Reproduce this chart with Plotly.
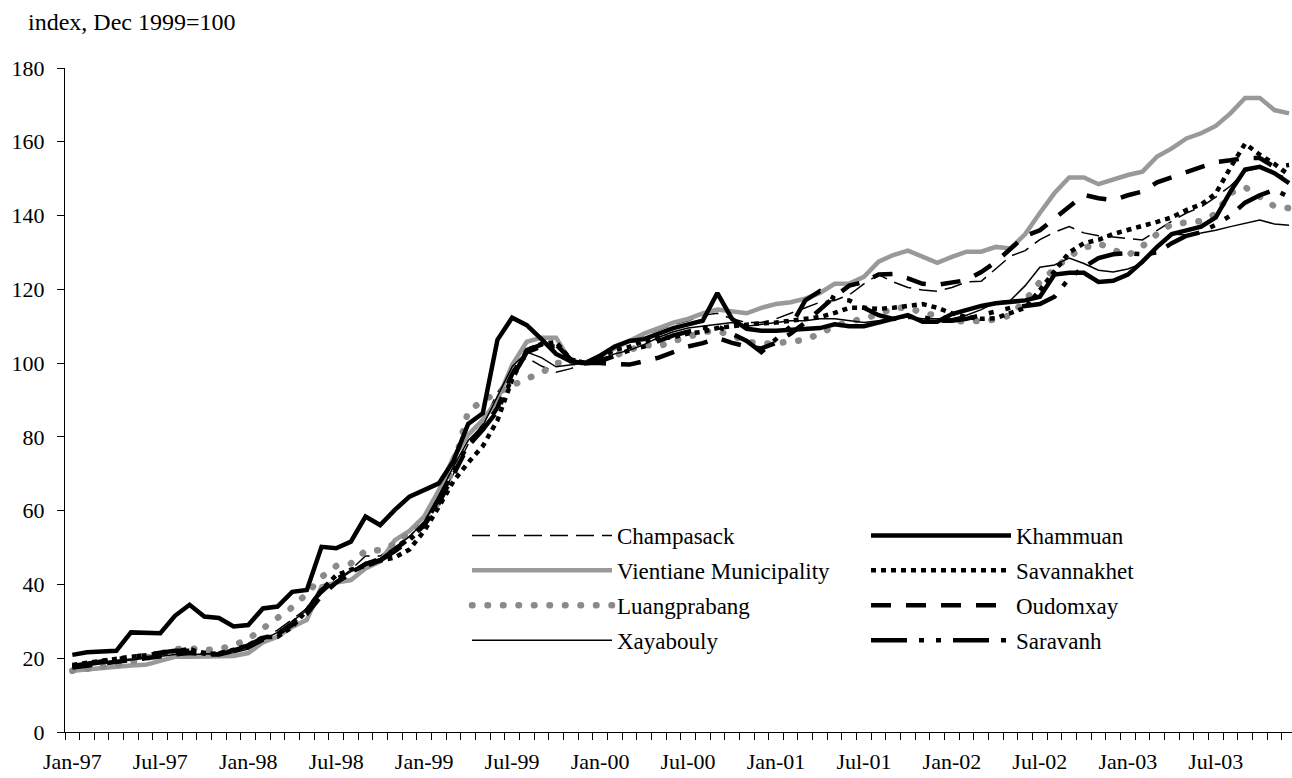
import plotly.graph_objects as go

# ---- data (monthly, Jan-97 .. Dec-03), index Dec 1999 = 100 ----
years = ["97", "98", "99", "00", "01", "02", "03"]
month_names = ["Jan", "Feb", "Mar", "Apr", "May", "Jun", "Jul", "Aug", "Sep", "Oct", "Nov", "Dec"]
categories = [f"{m}-{y}" for y in years for m in month_names]

champasack = [
    17.9, 18.3, 18.8, 19.3, 19.8, 20.3, 20.8, 21.2, 21.5, 21.3, 21.5, 22.5,
    23.5, 25.5, 27.6, 30.5, 33.5, 37.5, 41.0, 44.0, 47.7, 47.7, 50.5, 53.0,
    57.0, 63.0, 70.0, 78.0, 83.6, 92.0, 98.0, 101.5, 99.2, 97.5, 98.5, 100.0,
    102.0, 104.0, 106.0, 107.5, 109.0, 110.5, 111.5, 113.0, 113.5, 112.0, 111.0, 111.0,
    112.0, 113.5, 115.0, 116.5, 117.0, 118.5, 121.5, 124.0, 122.0, 120.5, 119.8, 119.5,
    120.5, 122.0, 122.2, 125.5, 129.0, 130.5, 133.5, 135.5, 137.0, 135.3, 134.5, 134.2,
    133.9, 133.4, 136.0, 138.5, 140.7, 142.3, 145.0, 148.0, 152.0, 153.0, 151.5, 150.0]

vientiane = [
    16.6, 17.0, 17.4, 17.8, 18.0, 18.2, 19.3, 20.4, 20.4, 20.4, 20.4, 20.6,
    21.4, 24.3, 25.8, 28.5, 30.4, 39.5, 40.5, 41.2, 44.3, 46.2, 52.0, 54.5,
    58.4, 65.5, 74.5, 80.5, 84.6, 90.0, 99.5, 105.8, 106.9, 106.9, 100.4, 100.0,
    102.0, 104.0, 106.0, 108.0, 109.5, 111.0, 112.0, 113.5, 114.5, 114.0, 113.5, 115.0,
    116.0, 116.5, 117.5, 119.0, 121.5, 121.6, 123.4, 127.5, 129.3, 130.5, 128.8, 127.2,
    128.8, 130.2, 130.2, 131.5, 131.1, 135.0, 140.7, 146.1, 150.3, 150.3, 148.5, 149.8,
    151.0, 151.9, 156.0, 158.2, 160.9, 162.3, 164.3, 167.7, 171.9, 171.9, 168.6, 167.7]

luangprabang = [
    16.6, 17.0, 17.5, 18.2, 18.9, 20.0, 21.5, 22.4, 22.7, 22.2, 22.5, 23.5,
    25.2, 28.2, 30.8, 33.8, 37.5, 42.0, 45.0, 45.7, 49.1, 49.3, 51.0, 53.5,
    56.5, 62.5, 71.5, 87.0, 89.8, 92.0, 94.0, 95.8, 97.3, 100.0, 100.3, 100.0,
    101.0, 102.0, 103.5, 105.0, 104.5, 106.0, 107.0, 108.5, 108.7, 107.5, 105.8, 105.3,
    105.4, 106.0, 106.3, 108.0, 110.0, 111.3, 112.0, 113.3, 114.8, 115.2, 113.5, 112.9,
    111.6, 111.2, 111.3, 111.8, 113.0, 117.0, 122.0, 125.5, 129.0, 131.2, 132.5, 130.7,
    129.2, 131.7, 135.0, 137.7, 138.0, 138.5, 140.5, 146.1, 147.7, 145.0, 142.5, 142.0]

xayabouly = [
    17.5, 18.0, 18.5, 19.0, 19.5, 20.0, 20.5, 21.0, 21.0, 21.0, 21.2, 21.5,
    22.5, 25.0, 27.0, 30.0, 33.0, 38.0, 41.0, 43.5, 46.0, 47.0, 50.0, 53.0,
    57.0, 64.0, 72.0, 79.0, 83.0, 91.0, 99.0, 103.0, 101.5, 99.0, 99.5, 100.0,
    101.0, 102.5, 103.5, 105.0, 107.0, 108.5, 109.5, 110.0, 110.5, 111.0, 110.0, 110.5,
    111.0, 111.5, 111.5, 112.0, 112.0, 111.5, 111.0, 111.5, 112.0, 112.5, 112.0, 112.0,
    112.0, 113.0, 114.5, 116.5, 117.0, 121.0, 126.0, 126.6, 128.5, 127.0, 125.2, 124.7,
    125.5, 127.0, 131.5, 135.0, 134.7, 135.3, 136.0, 137.0, 138.0, 138.8, 137.7, 137.4]

khammuan = [
    20.9, 21.6, 21.8, 22.0, 27.0, 26.9, 26.8, 31.5, 34.5, 31.3, 30.9, 28.6,
    29.0, 33.5, 34.0, 38.0, 38.5, 50.2, 49.8, 51.6, 58.4, 56.1, 60.2, 63.8,
    65.6, 67.4, 73.5, 83.5, 86.4, 106.3, 112.3, 110.3, 106.5, 102.5, 100.5, 100.0,
    102.0, 104.5, 106.0, 106.5, 108.0, 109.5, 110.5, 111.5, 119.0, 112.0, 109.3, 108.8,
    108.8, 109.0, 109.0, 109.5, 110.5, 110.0, 110.0, 111.0, 112.2, 113.0, 111.2, 111.2,
    113.3, 114.4, 115.5, 116.2, 116.7, 117.0, 118.0, 124.0, 124.5, 124.5, 122.0, 122.3,
    124.0, 127.5, 131.5, 135.0, 136.0, 137.0, 139.5, 146.5, 152.5, 153.2, 151.5, 148.8]

savannakhet = [
    18.2, 18.8, 19.4, 20.0, 20.4, 20.8, 21.3, 21.8, 22.5, 21.2, 21.3, 22.3,
    23.5, 25.7, 25.8, 28.5, 33.0, 38.5, 42.5, 44.0, 45.0, 46.5, 47.3, 49.5,
    54.5, 61.0, 68.0, 73.0, 77.5, 84.5, 95.5, 103.5, 105.2, 105.7, 101.0, 100.0,
    101.5, 103.6, 104.4, 106.0, 106.8, 107.0, 108.0, 108.5, 109.5, 110.0, 110.5, 110.8,
    111.0, 111.5, 112.0, 112.5, 113.6, 115.0, 115.0, 114.7, 115.0, 115.5, 116.0, 115.0,
    113.5, 112.5, 112.0, 112.2, 113.5, 115.0, 119.8, 125.0, 130.0, 132.5, 133.4, 135.0,
    136.0, 137.0, 138.3, 139.5, 141.5, 143.0, 146.0, 153.0, 159.5, 156.5, 154.0, 151.0]

oudomxay = [
    17.5, 18.0, 18.5, 19.0, 19.5, 20.0, 20.5, 21.0, 21.5, 21.0, 21.0, 22.0,
    23.0, 25.0, 26.5, 29.0, 32.0, 37.0, 40.5, 43.0, 45.5, 47.0, 49.5, 52.5,
    56.0, 62.0, 70.0, 77.5, 82.0, 88.0, 97.0, 103.5, 105.0, 105.0, 101.0, 100.0,
    100.0, 99.8, 99.6, 100.5, 101.5, 103.0, 104.5, 105.4, 106.8, 105.5, 104.5, 104.0,
    105.5, 108.0, 111.0, 114.5, 118.0, 121.0, 122.0, 124.0, 124.2, 123.0, 121.5, 121.2,
    121.7, 122.5, 124.7, 127.4, 131.0, 134.5, 136.0, 139.3, 142.3, 145.6, 144.7, 144.2,
    145.5, 146.5, 149.0, 150.4, 151.5, 153.0, 154.5, 155.0, 155.6, 155.6, 153.2, 153.7]

saravanh = [
    17.9, 18.5, 19.2, 20.0, 20.5, 21.0, 21.5, 22.0, 22.0, 21.5, 21.3, 22.0,
    23.5, 25.5, 26.5, 29.5, 33.0, 38.5, 41.5, 43.5, 45.0, 46.5, 49.0, 52.0,
    56.0, 63.0, 70.5, 78.0, 82.0, 87.0, 96.0, 103.0, 104.5, 104.5, 101.0, 100.0,
    100.5, 102.0, 103.5, 104.5, 106.0, 107.5, 108.5, 109.5, 110.0, 108.0, 106.0, 103.0,
    106.5, 110.0, 117.0, 119.5, 117.5, 117.0, 115.0, 113.0, 112.0, 112.5, 112.5, 111.5,
    111.5, 112.0, 113.0, 114.0, 115.0, 115.5, 116.0, 118.0, 123.0, 126.0, 128.5, 129.5,
    129.8, 129.5, 130.0, 132.5, 134.5, 135.5, 137.5, 140.0, 143.5, 145.5, 147.0, 145.0]

y_ticks = [0, 20, 40, 60, 80, 100, 120, 140, 160, 180]

FONT = "Liberation Serif, Times New Roman, serif"
x_idx = list(range(len(categories)))

# plot-area geometry in pixels (used to place legends/annotation)
L, T, W, H = 65, 68, 1227, 664


def px_x(p):
    return (p - L) / W


def px_y(p):
    return (T + H - p) / H


DOT = "0.5px,15px"  # round-capped dots for Luangprabang

series = [
    # name, values, color, width, dash, legend
    ("Champasack", champasack, "black", 1.5, "18px,8px", "legend"),
    ("Vientiane Municipality", vientiane, "#999999", 4.5, "solid", "legend"),
    ("Luangprabang", luangprabang, "#8a8a8a", 6.5, DOT, "legend"),
    ("Xayabouly", xayabouly, "black", 1.5, "solid", "legend"),
    ("Khammuan", khammuan, "black", 4.5, "solid", "legend2"),
    ("Savannakhet", savannakhet, "black", 4.5, "5px,5px", "legend2"),
    ("Oudomxay", oudomxay, "black", 4.5, "20px,15px", "legend2"),
    ("Saravanh", saravanh, "black", 4.5, "36px,12px,5px,12px,5px,12px", "legend2"),
]

fig = go.Figure()
for name, vals, color, width, dash, leg in series:
    fig.add_trace(go.Scatter(
        x=x_idx, y=vals, mode="lines", name=name,
        line=dict(color=color, width=width, dash=dash),
        legend=leg, legendgroup=name, hoverinfo="skip",
    ))

legend_common = dict(
    xanchor="left", yanchor="top",
    font=dict(family=FONT, size=23, color="black"),
    bgcolor="rgba(0,0,0,0)", borderwidth=0, itemwidth=140,
    tracegroupgap=2, orientation="v", itemclick=False,
)

fig.update_layout(
    width=1292, height=778,
    margin=dict(l=L, r=1292 - L - W, t=T, b=778 - T - H, autoexpand=False),
    paper_bgcolor="white", plot_bgcolor="white",
    font=dict(family=FONT, size=22, color="black"),
    showlegend=True,
    legend=dict(x=px_x(467), y=px_y(514), **legend_common),
    legend2=dict(x=px_x(866), y=px_y(514), **legend_common),
    xaxis=dict(
        range=[-0.5, 83.2], showgrid=False, zeroline=False,
        showline=True, linecolor="black", linewidth=1,
        tickmode="array", tickvals=x_idx[::6], ticktext=categories[::6],
        ticks="outside", ticklen=10, tickcolor="rgba(0,0,0,0)",
        tickfont=dict(family=FONT, size=22, color="black"),
        minor=dict(ticks="outside", ticklen=7, tickcolor="black", tickwidth=1,
                   tick0=-0.5, dtick=1, showgrid=False),
    ),
    yaxis=dict(
        range=[0, 180], showgrid=False, zeroline=False,
        showline=True, linecolor="black", linewidth=1,
        tickmode="array", tickvals=y_ticks,
        ticks="outside", ticklen=7, tickcolor="black", tickwidth=1,
        ticklabelstandoff=8,
        tickfont=dict(family=FONT, size=22, color="black"),
    ),
    annotations=[dict(
        text="index, Dec 1999=100", xref="paper", yref="paper",
        x=px_x(26), y=px_y(22), xanchor="left", yanchor="middle",
        showarrow=False, font=dict(family=FONT, size=24, color="black"),
    )],
)

post = """
var s=document.createElement('style');
s.textContent='body{margin:0;} path[style*="0.5px"]{stroke-linecap:round;}';
document.head.appendChild(s);
function roundDots(){
  document.querySelectorAll('path').forEach(function(p){
    var d=(p.style && p.style.strokeDasharray)||'';
    if(d.indexOf('0.5px')===0){p.style.strokeLinecap='round';}
  });
}
roundDots(); setTimeout(roundDots,50); setTimeout(roundDots,300);
"""
fig.write_html("out.html", post_script=post, config={"displayModeBar": False})
